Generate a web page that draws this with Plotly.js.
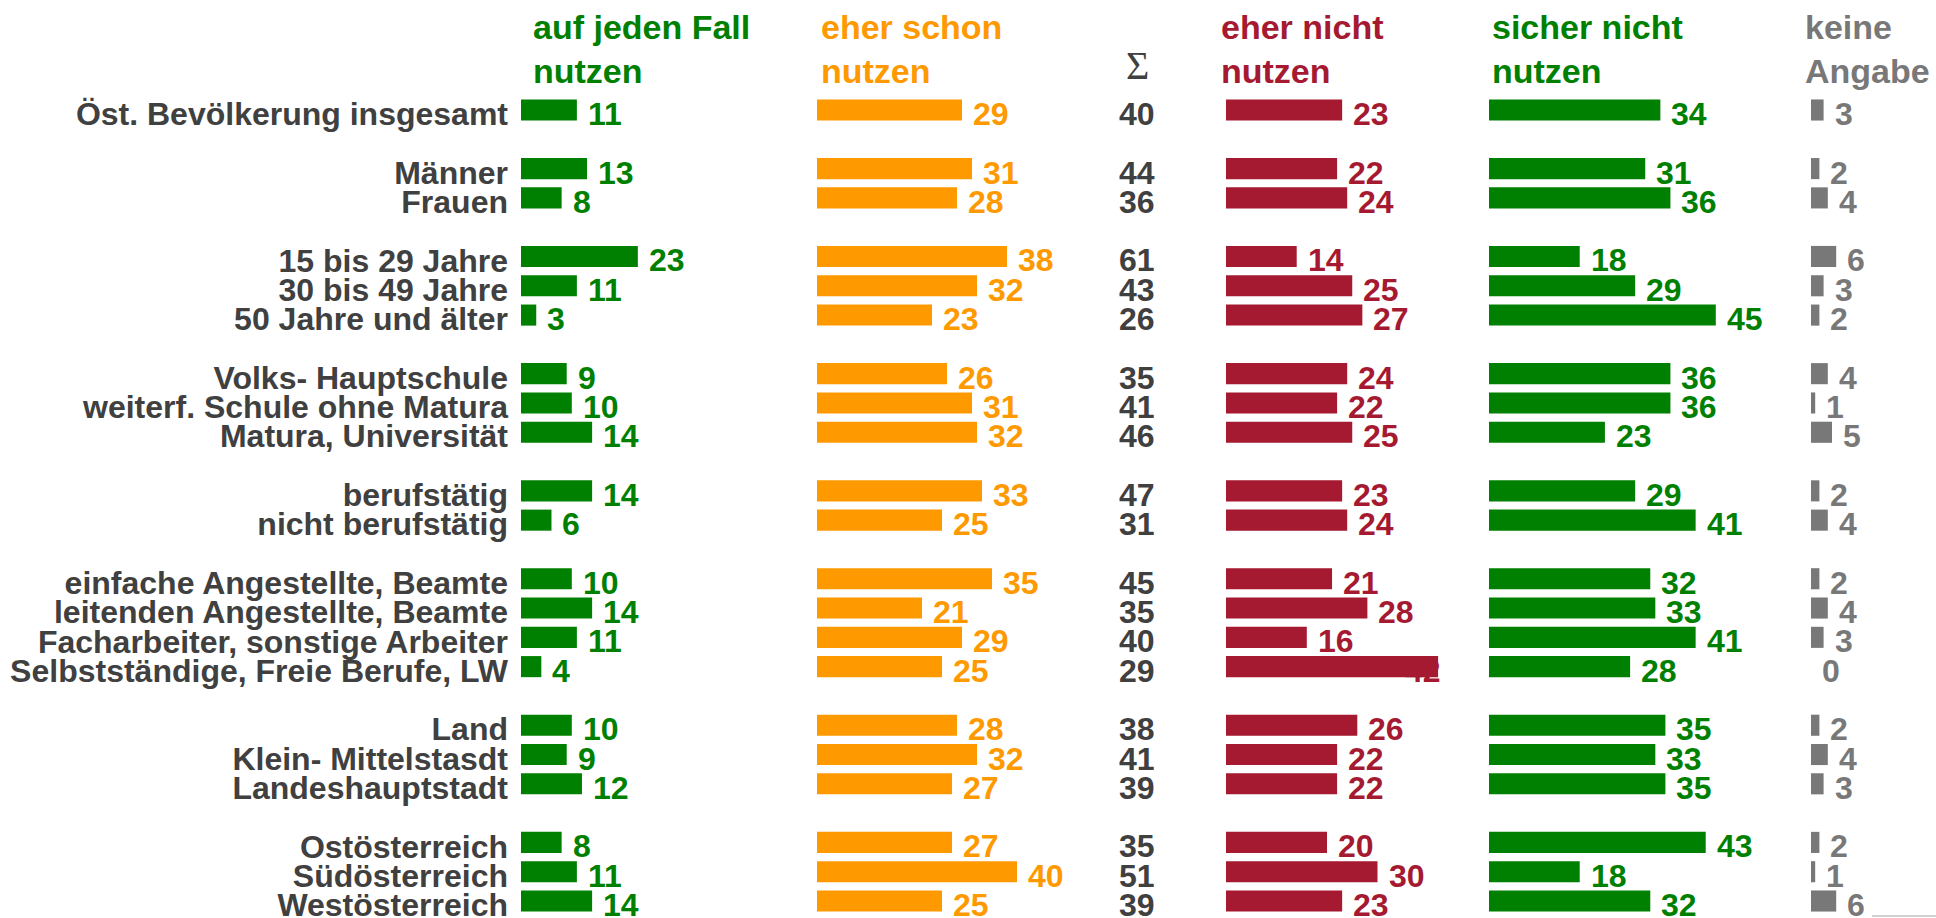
<!DOCTYPE html>
<html>
<head>
<meta charset="utf-8">
<script src="https://cdn.plot.ly/plotly-3.0.1.min.js"></script>
<style>
  html, body { margin: 0; padding: 0; background: #ffffff; }
  #chart { width: 1936px; height: 918px; }
</style>
</head>
<body>
<div id="chart"></div>
<script>
// ---------------- DATA ----------------
const categories = [
  "Öst. Bevölkerung insgesamt",
  "Männer", "Frauen",
  "15 bis 29 Jahre", "30 bis 49 Jahre", "50 Jahre und älter",
  "Volks- Hauptschule", "weiterf. Schule ohne Matura", "Matura, Universität",
  "berufstätig", "nicht berufstätig",
  "einfache Angestellte, Beamte", "leitenden Angestellte, Beamte",
  "Facharbeiter, sonstige Arbeiter", "Selbstständige, Freie Berufe, LW",
  "Land", "Klein- Mittelstasdt", "Landeshauptstadt",
  "Ostösterreich", "Südösterreich", "Westösterreich"
];
const groupSizes = [1, 2, 3, 3, 2, 4, 3, 3];

const aufJedenFall = [11, 13, 8, 23, 11, 3, 9, 10, 14, 14, 6, 10, 14, 11, 4, 10, 9, 12, 8, 11, 14];
const eherSchon    = [29, 31, 28, 38, 32, 23, 26, 31, 32, 33, 25, 35, 21, 29, 25, 28, 32, 27, 27, 40, 25];
const summe        = [40, 44, 36, 61, 43, 26, 35, 41, 46, 47, 31, 45, 35, 40, 29, 38, 41, 39, 35, 51, 39];
const eherNicht    = [23, 22, 24, 14, 25, 27, 24, 22, 25, 23, 24, 21, 28, 16, 42, 26, 22, 22, 20, 30, 23];
const sicherNicht  = [34, 31, 36, 18, 29, 45, 36, 36, 23, 29, 41, 32, 33, 41, 28, 35, 33, 35, 43, 18, 32];
const keineAngabe  = [3, 2, 4, 6, 3, 2, 4, 1, 5, 2, 4, 2, 4, 3, 0, 2, 4, 3, 2, 1, 6];

const headers = [
  "auf jeden Fall<br>nutzen", "eher schon<br>nutzen", "Σ",
  "eher nicht<br>nutzen", "sicher nicht<br>nutzen", "keine<br>Angabe"
];

// ---------------- STYLE ----------------
const W = 1936, H = 918;
const FONT = "Liberation Sans, Arial, Helvetica, sans-serif";
const GREEN = "#008000", ORANGE = "#FF9900", CRIMSON = "#A51931", GRAY = "#787878", DARK = "#404040";

// row slots: one blank slot between groups
const slots = [];
(function () {
  let s = 0;
  groupSizes.forEach(n => { for (let i = 0; i < n; i++) slots.push(s++); s++; });
})();

// pixel layout of the panels (labelMax: label position is clamped, as in the original)
const panels = [
  { vals: aufJedenFall, color: GREEN,   start: 521,  scale: 5.08, max: 50, ax: "x",  labelMax: 99 },
  { vals: eherSchon,    color: ORANGE,  start: 817,  scale: 5.00, max: 50, ax: "x2", labelMax: 99 },
  { vals: eherNicht,    color: CRIMSON, start: 1226, scale: 5.05, max: 50, ax: "x3", labelMax: 33.3 },
  { vals: sicherNicht,  color: GREEN,   start: 1489, scale: 5.04, max: 50, ax: "x4", labelMax: 99 },
  { vals: keineAngabe,  color: GRAY,    start: 1811, scale: 4.2,  max: 25, ax: "x5", labelMax: 99 }
];

// vertical mapping: first slot centre at 110px, last at 901px
const firstY = 110, lastY = 901;
const nSlots = slots[slots.length - 1];
const pxPerSlot = (lastY - firstY) / nSlots;
const yTop = -firstY / pxPerSlot;
const yBot = (H - firstY) / pxPerSlot;
const labelDrop = 4 / pxPerSlot;

const traces = [];
const annotations = [];
const layout = {
  width: W, height: H,
  margin: { l: 0, r: 0, t: 0, b: 0, pad: 0 },
  paper_bgcolor: "#ffffff", plot_bgcolor: "rgba(0,0,0,0)",
  showlegend: false,
  hovermode: false,
  font: { family: FONT, color: DARK },
  yaxis: {
    range: [yBot, yTop], domain: [0, 1], anchor: "x",
    showgrid: false, zeroline: false, showline: false,
    tickmode: "array", tickvals: slots.map(s => s + labelDrop), ticktext: categories,
    ticks: "", ticklabelstandoff: 12, ticklabeloverflow: "allow",
    tickfont: { family: FONT, size: 32, color: DARK, weight: "bold" },
    fixedrange: true
  },
  annotations: annotations,
  shapes: [{
    type: "line", xref: "paper", yref: "paper",
    x0: 1872 / W, x1: 1, y0: 1 - 916 / H, y1: 1 - 916 / H,
    line: { color: "#d0d0d0", width: 2 }
  }]
};

panels.forEach((p, k) => {
  const axName = k === 0 ? "xaxis" : "xaxis" + (k + 1);
  const widthPx = p.scale * p.max;
  layout[axName] = {
    domain: [p.start / W, (p.start + widthPx) / W],
    range: [0, p.max], anchor: "y",
    visible: false, showgrid: false, zeroline: false, fixedrange: true
  };
  traces.push({
    type: "bar", orientation: "h",
    x: p.vals, y: slots, xaxis: p.ax, yaxis: "y",
    width: 0.72,
    marker: { color: p.color, line: { width: 0 } },
    hoverinfo: "skip"
  });
  p.vals.forEach((v, i) => {
    annotations.push({
      x: Math.min(v, p.labelMax), y: slots[i], xref: p.ax, yref: "y",
      text: String(v), showarrow: false,
      xanchor: "left", yanchor: "middle",
      xshift: 9, yshift: -4,
      font: { family: FONT, size: 32, color: p.color, weight: "bold" }
    });
  });
});

// Σ column
const sumX = 1137 / W;
summe.forEach((v, i) => {
  annotations.push({
    x: sumX, y: slots[i], xref: "paper", yref: "y",
    text: String(v), showarrow: false,
    xanchor: "center", yanchor: "middle", yshift: -4,
    font: { family: FONT, size: 32, color: DARK, weight: "bold" }
  });
});

// column headers
const headerX = [531, 819, 1137, 1219, 1490, 1803];
const headerColors = [GREEN, ORANGE, DARK, CRIMSON, GREEN, GRAY];
headers.forEach((h, k) => {
  if (h === "Σ") {
    annotations.push({
      x: headerX[k] / W, y: 1 - 66 / H, xref: "paper", yref: "paper",
      text: h, showarrow: false, xanchor: "center", yanchor: "middle",
      font: { family: "Liberation Serif, Times New Roman, serif", size: 40, color: DARK }
    });
  } else {
    annotations.push({
      x: headerX[k] / W, y: 1, xref: "paper", yref: "paper",
      text: h, showarrow: false, xanchor: "left", yanchor: "top", align: "left",
      yshift: -6,
      font: { family: FONT, size: 34, color: headerColors[k], weight: "bold" }
    });
  }
});

Plotly.newPlot("chart", traces, layout, { staticPlot: true, displayModeBar: false });
</script>
</body>
</html>
